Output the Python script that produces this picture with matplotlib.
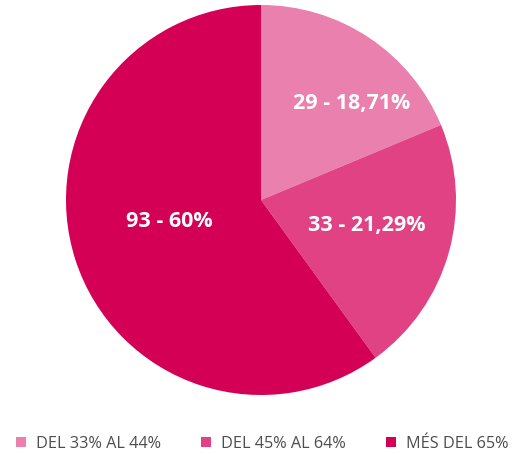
import matplotlib.pyplot as plt
from matplotlib.patches import Patch

# Data
categories = ['DEL 33% AL 44%', 'DEL 45% AL 64%', 'MÉS DEL 65%']
counts = [29, 33, 93]
labels = ['29 - 18,71%', '33 - 21,29%', '93 - 60%']
colors = ['#ea80ad', '#e04283', '#d40056']
# where each label sits inside the pie (unit radius coords)
label_pos = [(0.467, 0.497), (0.544, -0.133), (-0.469, -0.108)]

fig = plt.figure(figsize=(5.15, 4.54), dpi=100)
ax = fig.add_axes([66 / 515, 1 - 395 / 454, 390 / 515, 390 / 454])

ax.pie(counts, colors=colors, startangle=90, counterclock=False,
       radius=1, wedgeprops=dict(linewidth=0))
ax.set_xlim(-1, 1)
ax.set_ylim(-1, 1)
ax.set_aspect('equal')

for (x, y), txt in zip(label_pos, labels):
    ax.text(x, y, txt, ha='center', va='center', color='white',
            fontsize=15.5, fontweight='bold', family='Open Sans')

handles = [Patch(facecolor=c, edgecolor='none') for c in colors]
fig.legend(handles, categories, loc='center', bbox_to_anchor=(0.509, 1 - 444 / 454),
           ncol=3, frameon=False, handlelength=0.6, handleheight=0.6,
           handletextpad=0.6, columnspacing=2.5,
           prop={'family': 'Open Sans', 'size': 11.7}, labelcolor='#4d4d4d')

fig.savefig('out.png', dpi=100)
